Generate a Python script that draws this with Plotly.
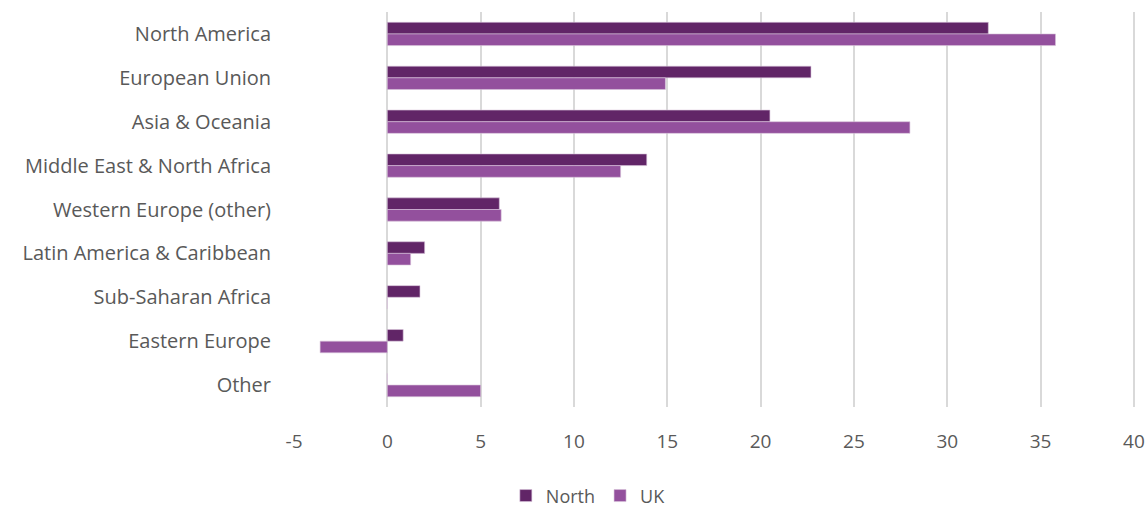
import plotly.graph_objects as go

regions = [
    "North America",
    "European Union",
    "Asia & Oceania",
    "Middle East & North Africa",
    "Western Europe (other)",
    "Latin America & Caribbean",
    "Sub-Saharan Africa",
    "Eastern Europe",
    "Other",
]
north = [32.2, 22.7, 20.5, 13.9, 6.0, 2.0, 1.75, 0.85, 0]
uk = [35.8, 14.9, 28.0, 12.5, 6.1, 1.25, 0, -3.6, 5.0]

x_ticks = [-5, 0, 5, 10, 15, 20, 25, 30, 35, 40]

NORTH_COLOR = "#612567"
UK_COLOR = "#93509d"
TEXT_COLOR = "#595959"
FONT = "Open Sans, Lato, sans-serif"

fig = go.Figure()
fig.add_trace(go.Bar(
    y=regions, x=north, name="North", orientation="h",
    marker=dict(color=NORTH_COLOR, line=dict(color="#d7c3da", width=0.6)),
))
fig.add_trace(go.Bar(
    y=regions, x=uk, name="UK", orientation="h",
    marker=dict(color=UK_COLOR, line=dict(color="#d7c3da", width=0.6)),
))

fig.update_layout(
    width=1146, height=509,
    margin=dict(l=294, r=11, t=12, b=102, autoexpand=False),
    paper_bgcolor="white", plot_bgcolor="white",
    barmode="group", bargap=0.47, bargroupgap=0,
    font=dict(family=FONT, color=TEXT_COLOR, size=19),
    showlegend=True,
    legend=dict(
        orientation="h", x=0.35, xanchor="center", y=-0.225, yanchor="middle",
        font=dict(size=18, color=TEXT_COLOR), itemwidth=30,
        traceorder="normal",
    ),
    xaxis=dict(
        range=[-5, 40.06], tickvals=x_ticks, ticktext=[str(v) for v in x_ticks],
        showgrid=True, gridcolor="#d9d9d9", gridwidth=1.5,
        zeroline=False, showline=False, ticks="",
        tickfont=dict(size=19, color=TEXT_COLOR), ticklabelstandoff=21,
        ticklabeloverflow="allow", automargin=False, fixedrange=True,
    ),
    yaxis=dict(
        autorange="reversed", showgrid=False, zeroline=False, showline=False,
        ticks="", tickfont=dict(size=20, color=TEXT_COLOR),
        ticklabelstandoff=22, automargin=False, fixedrange=True,
    ),
)

fig.write_html("out.html")
